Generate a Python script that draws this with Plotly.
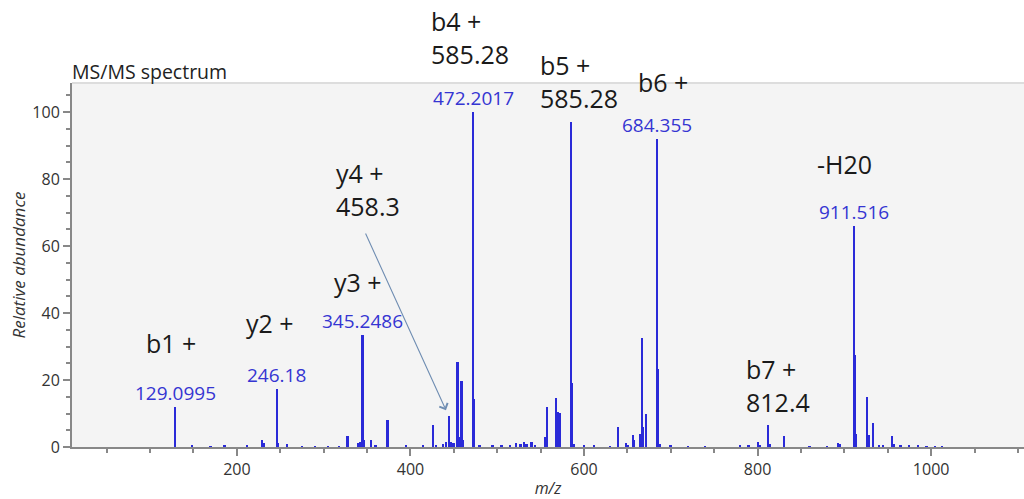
import plotly.graph_objects as go

# ---- data ----
mz = [148.9, 170, 186, 212, 229.5, 231, 246.18, 247.4, 258, 275, 290, 305, 318,
      327.6, 340, 342, 345.25, 346.3, 355, 360, 373.7, 395, 415, 426.3, 430, 438, 441,
      444.4, 447, 450, 454.4, 456, 459, 461, 472.2, 473.2, 480, 495, 505, 515, 522,
      527, 531, 534, 540, 544, 555, 557.7, 567.7, 569, 570.4, 572.3, 585.28, 586.3,
      588, 600, 612, 630, 639.6, 649, 651, 656.5, 658, 665, 667, 668.5, 671.5,
      684.36, 685.4, 688, 700, 720, 740, 780, 790, 801, 803, 812.5, 814, 830.6, 860,
      880, 893, 895, 911.52, 912.5, 914, 926.3, 928, 933.6, 940, 945, 955.5, 957,
      965, 975, 985, 995, 1005, 1013, 129.10]
intensity = [0.6, 0.3, 0.4, 0.4, 2.0, 1.2, 17.2, 1.2, 1.0, 0.3, 0.3, 0.3, 0.3,
             3.2, 1.2, 1.5, 33.4, 2.0, 2.2, 0.6, 8.0, 0.5, 0.4, 6.5, 0.5, 1.0, 1.5,
             9.2, 1.5, 1.2, 25.4, 3.0, 19.7, 2.0, 100.0, 14.3, 0.5, 0.5, 0.4, 0.6, 1.2,
             0.8, 1.5, 1.0, 1.5, 0.5, 3.0, 11.8, 14.5, 3.0, 10.5, 10.2, 97.0, 19.0,
             1.0, 0.4, 0.5, 0.3, 6.0, 1.1, 0.5, 3.7, 2.0, 4.0, 32.7, 6.0, 9.8,
             92.0, 23.4, 1.0, 0.6, 0.3, 0.3, 0.4, 0.4, 1.5, 0.5, 6.7, 1.0, 3.2, 0.3,
             0.3, 1.2, 0.8, 66.0, 27.4, 4.0, 15.0, 3.5, 7.3, 0.6, 0.5, 3.2, 1.0,
             0.4, 0.4, 0.4, 0.3, 0.3, 0.3, 11.9]

# labelled peaks (m/z shown in blue above the peak)
label_mz = [129.10, 246.18, 345.25, 472.2, 684.36, 911.52]
label_int = [11.9, 17.2, 33.4, 100.0, 92.0, 66.0]
label_text = ["129.0995", "246.18", "345.2486", "472.2017", "684.355", "911.516"]

# fragment ion annotations: text, m/z (left edge), relative abundance (centre)
ion_text = ["b1 +", "y2 +", "y3 +", "y4 +<br>458.3", "b4 +<br>585.28", "b5 +<br>585.28",
            "b6 +", "-H20", "b7 +<br>812.4"]
ion_x = [92.5, 208.0, 309.5, 312.0, 421.5, 546.5, 660.0, 866.5, 784.5]
ion_y = [31.2, 37.0, 49.2, 77.0, 122.2, 109.2, 109.0, 84.5, 18.3]

x_ticks = [200, 400, 600, 800, 1000]
y_ticks = [0, 20, 40, 60, 80, 100]
Y_MAX = 108.7

BLUE = "#2a2ad8"
FONT = "Open Sans"

fig = go.Figure()
fig.add_trace(go.Bar(x=mz, y=intensity, width=2.2, marker=dict(color=BLUE, line=dict(width=0)),
                     showlegend=False))

for m, i, t in zip(label_mz, label_int, label_text):
    fig.add_annotation(x=m, y=i, text=t, showarrow=False, xanchor="center", yanchor="middle",
                       yshift=14, font=dict(family=FONT, size=19, color="#3535d2"))

for t, x, y in zip(ion_text, ion_x, ion_y):
    fig.add_annotation(x=x, y=y / Y_MAX, xref="x", yref="paper", text=t, showarrow=False,
                       xanchor="left", yanchor="middle", align="left",
                       font=dict(family=FONT, size=25, color="#1a1a1a"))

# arrow from "458.3" label to the y4 peak
fig.add_annotation(x=440.9, y=11.0, ax=347.5, ay=64.2, axref="x", ayref="y", xref="x", yref="y",
                   text="", showarrow=True, arrowhead=4, arrowsize=1.6, arrowwidth=1.1,
                   arrowcolor="#6f8db2")

fig.add_shape(type="line", xref="paper", yref="paper", x0=0, x1=1, y0=1, y1=1,
              line=dict(color="#dddddd", width=2))

fig.update_layout(
    width=1024, height=499,
    margin=dict(l=72, r=0, t=83, b=52),
    paper_bgcolor="white", plot_bgcolor="#f4f4f4",
    bargap=0,
    font=dict(family=FONT, color="#333333"),
    title=dict(text="MS/MS spectrum", x=72 / 1024, xanchor="left", xref="container",
               y=1 - 72 / 499, yanchor="middle", yref="container",
               font=dict(family=FONT, size=19.5, color="#222222")),
    xaxis=dict(range=[10, 1107], tickvals=x_ticks, ticks="outside", ticklen=7, tickwidth=1.5,
               tickcolor="#888888", showline=True, linecolor="#888888", linewidth=2,
               showgrid=False, zeroline=False,
               minor=dict(dtick=50, tick0=0, ticks="outside", ticklen=4, tickcolor="#888888", showgrid=False),
               tickfont=dict(size=16, color="#333333"),
               title=dict(text="<i>m/z</i>", font=dict(size=16, color="#333333"), standoff=4)),
    yaxis=dict(range=[0, Y_MAX], tickvals=y_ticks, ticks="outside", ticklen=7, tickwidth=1.5,
               tickcolor="#888888", showline=True, linecolor="#888888", linewidth=2,
               showgrid=False, zeroline=False,
               minor=dict(dtick=5, tick0=0, ticks="outside", ticklen=4, tickcolor="#888888", showgrid=False),
               tickfont=dict(size=16, color="#333333"),
               title=dict(text="<i>Relative abundance</i>", font=dict(size=17, color="#333333"), standoff=2)),
)

fig.write_html("out.html")
